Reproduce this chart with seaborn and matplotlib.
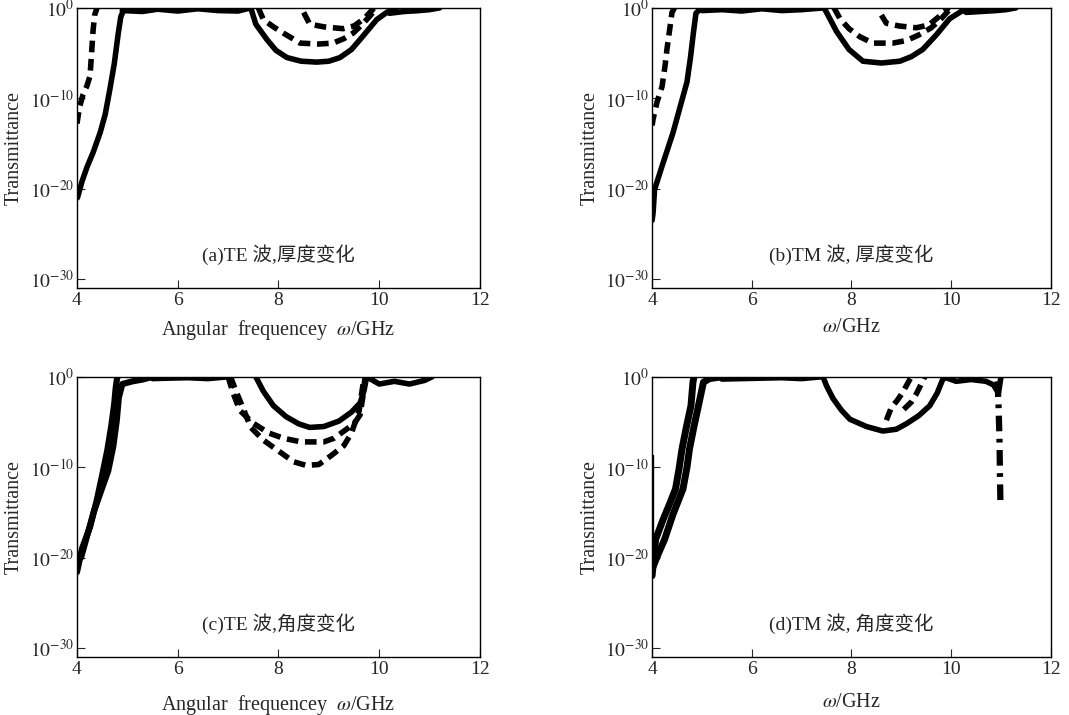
import numpy as np
import matplotlib
matplotlib.use('Agg')
import matplotlib.pyplot as plt
from matplotlib.ticker import NullLocator
import seaborn as sns

# values: x in GHz, y as log10(transmittance)

# (a) TE wave, thickness varied
a_left_solid_x = [4.01, 4.1, 4.2, 4.32, 4.46, 4.56, 4.65, 4.74, 4.82, 4.87, 4.92, 5.05, 5.3]
a_left_solid_y = [-21.0, -19.2, -17.6, -16.0, -13.8, -11.8, -9.1, -6.2, -2.8, -1.0, -0.3, -0.1, 0]
a_left_dash_x = [4.0, 4.05, 4.12, 4.2, 4.26, 4.29, 4.32, 4.35, 4.4]
a_left_dash_y = [-12.8, -11.0, -9.6, -8.6, -7.5, -5.0, -2.5, -0.8, 0]
a_top_x = [4.9, 5.3, 5.6, 6.0, 6.4, 6.8, 7.2, 7.45]
a_top_y = [-0.3, -0.4, -0.15, -0.35, -0.1, -0.3, -0.35, 0]
a_dip_solid_x = [7.45, 7.55, 7.77, 7.95, 8.17, 8.45, 8.76, 9.0, 9.22, 9.45, 9.62, 9.8, 9.95, 10.15, 10.35]
a_dip_solid_y = [0, -1.8, -3.5, -4.7, -5.5, -5.9, -6.0, -5.9, -5.5, -4.6, -3.5, -2.3, -1.3, -0.5, 0]
a_dip_dash1_x = [7.6, 7.7, 7.9, 8.1, 8.43, 8.8, 9.08, 9.3, 9.48, 9.65, 9.8, 9.95]
a_dip_dash1_y = [0, -1.3, -2.1, -2.8, -3.9, -4.0, -3.9, -3.4, -2.8, -1.9, -1.0, 0]
a_dip_dash2_x = [8.5, 8.62, 8.9, 9.28, 9.5, 9.7, 9.9]
a_dip_dash2_y = [-0.5, -1.8, -2.1, -2.3, -2.0, -1.2, 0]
a_right_x = [10.2, 10.5, 10.8, 11.0, 11.2]
a_right_y = [-0.6, -0.4, -0.3, -0.2, 0]

# (b) TM wave, thickness varied
b_left_solid_x = [4.0, 4.02, 4.05, 4.2, 4.42, 4.56, 4.7, 4.77, 4.83, 4.88, 4.95, 5.1, 5.4]
b_left_solid_y = [-23.5, -22.7, -20.1, -17.5, -13.8, -11.0, -8.2, -5.5, -2.7, -0.6, -0.2, -0.1, 0]
b_left_dash_x = [4.0, 4.02, 4.1, 4.2, 4.26, 4.3, 4.34, 4.4, 4.45]
b_left_dash_y = [-13.0, -12.3, -10.4, -8.7, -6.4, -4.5, -2.9, -0.5, 0]
b_top_x = [5.0, 5.4, 5.8, 6.2, 6.6, 7.0, 7.45]
b_top_y = [-0.3, -0.2, -0.35, -0.1, -0.3, -0.2, 0]
b_dip_solid_x = [7.45, 7.5, 7.7, 7.95, 8.23, 8.6, 8.97, 9.2, 9.43, 9.7, 9.97, 10.2, 10.43]
b_dip_solid_y = [0, -0.5, -2.6, -4.6, -5.9, -6.1, -5.9, -5.4, -4.6, -3.0, -1.2, -0.4, 0]
b_dip_dash1_x = [7.65, 7.77, 7.95, 8.17, 8.43, 8.83, 9.11, 9.35, 9.6, 9.8, 10.0]
b_dip_dash1_y = [0, -1.2, -2.3, -3.2, -3.9, -3.9, -3.6, -3.0, -2.2, -1.2, 0]
b_dip_dash2_x = [8.6, 8.7, 8.95, 9.3, 9.55, 9.75, 9.95]
b_dip_dash2_y = [-0.8, -1.7, -2.0, -2.2, -1.9, -1.0, 0]
b_right_x = [10.3, 10.6, 10.9, 11.1, 11.3]
b_right_y = [-0.5, -0.4, -0.3, -0.2, 0]

# (c) TE wave, angle varied
c_left_solid1_x = [4.0, 4.1, 4.26, 4.4, 4.5, 4.6, 4.68, 4.74, 4.77, 4.8]
c_left_solid1_y = [-21.6, -19.0, -16.6, -13.5, -10.9, -8.2, -5.5, -3.0, -1.2, 0]
c_left_solid2_x = [4.08, 4.18, 4.33, 4.48, 4.62, 4.72, 4.79, 4.83, 4.9, 5.1, 5.3, 5.5]
c_left_solid2_y = [-20.0, -18.0, -15.0, -12.6, -10.4, -7.7, -4.8, -2.3, -0.8, -0.5, -0.3, 0]
c_top_x = [5.5, 5.8, 6.2, 6.6, 7.0]
c_top_y = [-0.2, -0.15, -0.1, -0.2, 0]
c_dip_solid_x = [7.55, 7.7, 7.9, 8.15, 8.4, 8.62, 8.9, 9.2, 9.45, 9.62, 9.7, 9.75]
c_dip_solid_y = [0, -1.6, -3.2, -4.4, -5.2, -5.6, -5.5, -4.9, -3.9, -2.9, -1.5, 0]
c_dip_dash1_x = [7.0, 7.1, 7.23, 7.49, 7.8, 8.1, 8.45, 8.9, 9.1, 9.3, 9.5, 9.62, 9.68, 9.72]
c_dip_dash1_y = [0, -1.8, -3.7, -5.1, -6.2, -6.8, -7.2, -7.2, -6.8, -6.0, -5.2, -4.2, -2.0, 0]
c_dip_dash2_x = [7.05, 7.15, 7.3, 7.45, 7.7, 8.0, 8.3, 8.55, 8.8, 9.05, 9.3, 9.45, 9.6, 9.7]
c_dip_dash2_y = [0, -1.5, -3.5, -5.6, -7.0, -8.2, -9.4, -9.8, -9.7, -8.7, -7.6, -6.2, -3.8, 0]
c_right_x = [9.75, 10.0, 10.3, 10.6, 10.9, 11.05]
c_right_y = [0, -0.8, -0.5, -0.8, -0.4, 0]

# (d) TM wave, angle varied
d_left_solid1_x = [4.0, 4.07, 4.22, 4.37, 4.47, 4.54, 4.6, 4.69, 4.78, 4.82, 4.84]
d_left_solid1_y = [-22.0, -18.0, -15.8, -13.8, -12.4, -10.2, -8.0, -5.5, -3.2, -0.6, 0]
d_left_solid2_x = [4.02, 4.13, 4.25, 4.42, 4.62, 4.7, 4.75, 4.84, 4.93, 5.03, 5.15, 5.4]
d_left_solid2_y = [-21.0, -19.5, -18.0, -15.2, -12.4, -10.0, -8.0, -5.5, -3.2, -0.6, -0.2, 0]
d_thin_x = [4.01, 4.01]
d_thin_y = [-8.6, -20.5]
d_top_x = [5.4, 5.8, 6.2, 6.6, 7.0, 7.4]
d_top_y = [-0.25, -0.2, -0.15, -0.1, -0.2, 0]
d_dip_solid_x = [7.43, 7.5, 7.63, 7.8, 7.97, 8.3, 8.63, 8.9, 9.1, 9.35, 9.57, 9.72, 9.83, 9.9]
d_dip_solid_y = [0, -1.0, -2.4, -3.7, -4.7, -5.5, -6.0, -5.8, -5.2, -4.3, -3.2, -1.8, -0.3, 0]
d_dip_dash1_x = [8.7, 8.8, 8.92, 9.02, 9.12, 9.2]
d_dip_dash1_y = [-4.8, -3.4, -2.6, -1.8, -0.8, 0]
d_dip_dash2_x = [9.05, 9.2, 9.3, 9.4, 9.47]
d_dip_dash2_y = [-3.6, -2.8, -1.9, -0.8, 0]
d_right_x = [9.85, 10.1, 10.4, 10.7, 10.85, 10.95, 11.0]
d_right_y = [0, -0.5, -0.3, -0.5, -0.9, -1.8, 0]
d_edge_x = [10.93, 10.95, 10.97, 10.98, 10.99]
d_edge_y = [-0.5, -3.0, -7.0, -11.0, -14.4]

ytick_vals = [1e-30, 1e-20, 1e-10, 1e0]
ytick_text = [r'$10^{-30}$', r'$10^{-20}$', r'$10^{-10}$', r'$10^{0}$']
xtick_vals = [4, 6, 8, 10, 12]

sns.set_style('ticks')
plt.rcParams['font.family'] = ['Liberation Serif', 'Noto Sans CJK SC']
plt.rcParams['mathtext.fontset'] = 'stix'

SOLID = '-'
DASH = (0, (2.1, 1.2))
DASHDOT = (0, (2.5, 1.2, 0.6, 1.2))


def draw(ax, xs, ys, ls=SOLID, lw=4.0):
    sns.lineplot(x=xs, y=[10.0 ** v for v in ys], ax=ax, color='black',
                 linewidth=lw, linestyle=ls, sort=False, estimator=None)


fig = plt.figure(figsize=(10.69, 7.15), dpi=100)
ax_a = fig.add_axes([0.072, 0.597, 0.377, 0.392])
ax_b = fig.add_axes([0.610, 0.597, 0.373, 0.392])
ax_c = fig.add_axes([0.072, 0.081, 0.377, 0.392])
ax_d = fig.add_axes([0.610, 0.081, 0.373, 0.392])

# (a)
draw(ax_a, a_left_solid_x, a_left_solid_y)
draw(ax_a, a_left_dash_x, a_left_dash_y, DASH)
draw(ax_a, a_top_x, a_top_y)
draw(ax_a, a_dip_solid_x, a_dip_solid_y)
draw(ax_a, a_dip_dash1_x, a_dip_dash1_y, DASH)
draw(ax_a, a_dip_dash2_x, a_dip_dash2_y, DASH)
draw(ax_a, a_right_x, a_right_y)

# (b)
draw(ax_b, b_left_solid_x, b_left_solid_y)
draw(ax_b, b_left_dash_x, b_left_dash_y, DASH)
draw(ax_b, b_top_x, b_top_y)
draw(ax_b, b_dip_solid_x, b_dip_solid_y)
draw(ax_b, b_dip_dash1_x, b_dip_dash1_y, DASH)
draw(ax_b, b_dip_dash2_x, b_dip_dash2_y, DASH)
draw(ax_b, b_right_x, b_right_y)

# (c)
draw(ax_c, c_left_solid1_x, c_left_solid1_y, SOLID, 4.5)
draw(ax_c, c_left_solid2_x, c_left_solid2_y, SOLID, 4.5)
draw(ax_c, c_top_x, c_top_y)
draw(ax_c, c_dip_solid_x, c_dip_solid_y)
draw(ax_c, c_dip_dash1_x, c_dip_dash1_y, DASH)
draw(ax_c, c_dip_dash2_x, c_dip_dash2_y, DASH)
draw(ax_c, c_right_x, c_right_y)

# (d)
draw(ax_d, d_left_solid1_x, d_left_solid1_y, SOLID, 5.0)
draw(ax_d, d_left_solid2_x, d_left_solid2_y, SOLID, 5.0)
draw(ax_d, d_thin_x, d_thin_y, SOLID, 1.0)
draw(ax_d, d_top_x, d_top_y)
draw(ax_d, d_dip_solid_x, d_dip_solid_y)
draw(ax_d, d_dip_dash1_x, d_dip_dash1_y, DASH)
draw(ax_d, d_dip_dash2_x, d_dip_dash2_y, DASH)
draw(ax_d, d_right_x, d_right_y)
draw(ax_d, d_edge_x, d_edge_y, DASHDOT, 4.5)

notes = ['(a)TE 波,厚度变化', '(b)TM 波, 厚度变化', '(c)TE 波,角度变化', '(d)TM 波, 角度变化']
xlabels = [r'Angular  frequencey  $\omega$/GHz', r'$\omega$/GHz',
           r'Angular  frequencey  $\omega$/GHz', r'$\omega$/GHz']
label_y = [-0.105, -0.105, -0.128, -0.128]

for ax, note, xl, ly in zip([ax_a, ax_b, ax_c, ax_d], notes, xlabels, label_y):
    ax.set_yscale('log')
    ax.set_xlim(4, 12)
    ax.set_ylim(1e-31, 1e0)
    ax.set_xticks(xtick_vals)
    ax.set_xticklabels([str(v) for v in xtick_vals])
    ax.set_yticks(ytick_vals)
    ax.set_yticklabels(ytick_text)
    ax.yaxis.set_minor_locator(NullLocator())
    ax.tick_params(direction='in', length=5.5, width=0.8, labelsize=14, pad=3)
    ax.tick_params(axis='y', pad=2)
    for sp in ax.spines.values():
        sp.set_linewidth(1.0)
        sp.set_color('black')
    ax.set_ylabel('Transmittance', fontsize=14.5)
    ax.yaxis.set_label_coords(-0.132, 0.5)
    ax.set_xlabel(xl, fontsize=14.5)
    ax.xaxis.set_label_coords(0.5, ly)
    ax.text(8.0, 10 ** -27.3, note, ha='center', va='center', fontsize=14)

fig.savefig('out.png', dpi=100)
